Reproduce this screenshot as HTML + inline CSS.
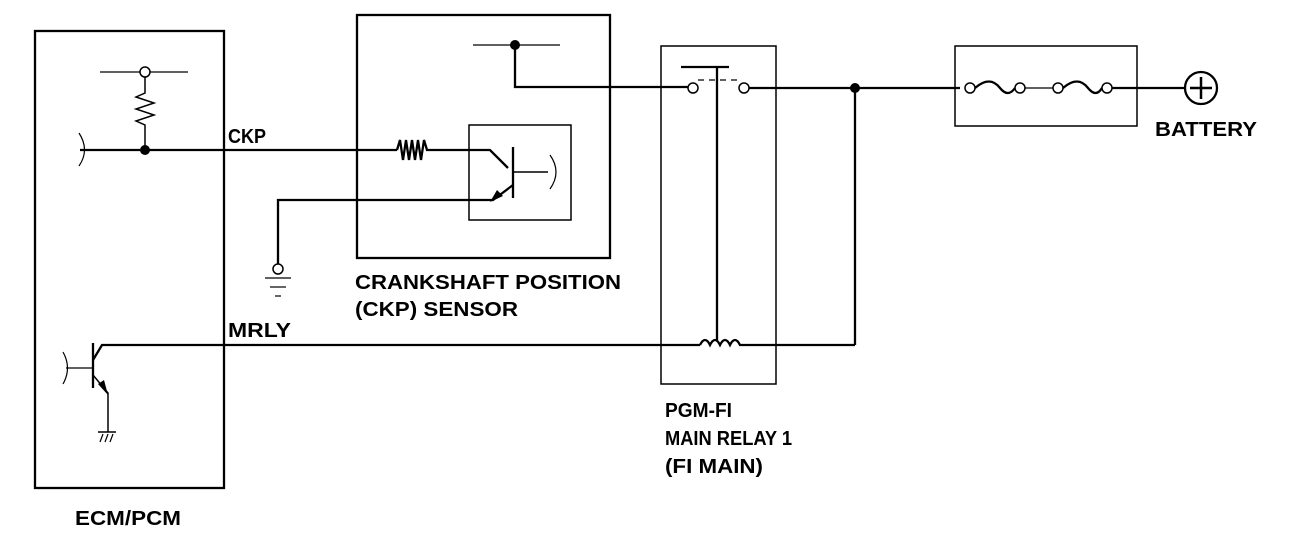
<!DOCTYPE html>
<html><head><meta charset="utf-8"><style>body{margin:0;background:#fff}svg{display:block}</style></head><body>
<svg width="1312" height="540" viewBox="0 0 1312 540" xmlns="http://www.w3.org/2000/svg" font-family="Liberation Sans, sans-serif" font-weight="bold" font-size="20">
<g fill="none" stroke="#000" stroke-width="2.3">
<rect x="35" y="31" width="189" height="457"/>
<rect x="357" y="15" width="253" height="243"/>
<rect x="469" y="125" width="102" height="95" stroke-width="1.5"/>
<rect x="661" y="46" width="115" height="338" stroke-width="1.5"/>
<rect x="955" y="46" width="182" height="80" stroke-width="1.5"/>
<!-- ECM pullup -->
<line x1="100" y1="72" x2="188" y2="72" stroke-width="1.2"/>
<polyline points="145,77 145,93 136,97 154,103 136,109 154,115 136,121 145,125 145,150" stroke-width="1.5"/>
<path d="M79,133 Q90,150 79,166" stroke-width="1.2"/>
<line x1="80" y1="150" x2="397" y2="150"/>
<polyline points="397,150 400,140 403,160 406,140 409,160 412,140 415,160 418,140 421,160 424,140 427,150 490,150 508,168"/>
<line x1="513" y1="147" x2="513" y2="198"/>
<line x1="513" y1="172" x2="548" y2="172" stroke-width="1.5"/>
<path d="M550,155 Q562,172 550,189" stroke-width="1.2"/>
<polyline points="513,185 493,200 278,200 278,264"/>
<line x1="265" y1="278" x2="291" y2="278" stroke-width="1.2"/>
<line x1="270" y1="287" x2="286" y2="287" stroke-width="1.2"/>
<line x1="275" y1="296" x2="281" y2="296" stroke-width="1.2"/>
<!-- sensor top -->
<line x1="473" y1="45" x2="560" y2="45" stroke-width="1.2"/>
<polyline points="515,45 515,87 688,87"/>
<!-- relay -->
<line x1="681" y1="67" x2="729" y2="67"/>
<line x1="717" y1="67" x2="717" y2="340"/>
<line x1="698" y1="80" x2="740" y2="80" stroke-width="1.2" stroke-dasharray="6,5"/>
<line x1="749" y1="88" x2="960" y2="88"/>
<line x1="855" y1="88" x2="855" y2="345"/>
<polyline points="149,345 700,345"/>
<path d="M700,345 Q705,335 710,345 Q715,335 720,345 Q725,335 730,345 Q735,335 740,345 L855,345"/>
<!-- fuse -->
<path d="M975,88 Q990,75 1000,88 Q1008,98 1015,88" />
<line x1="1025" y1="88" x2="1053" y2="88" stroke-width="1.2"/>
<path d="M1063,88 Q1078,75 1088,88 Q1096,98 1102,88"/>
<line x1="1112" y1="88" x2="1185" y2="88"/>
<circle cx="1201" cy="88" r="16"/>
<line x1="1201" y1="77" x2="1201" y2="99" stroke-width="2.5"/>
<line x1="1190" y1="88" x2="1212" y2="88" stroke-width="2.5"/>
<!-- ECM transistor -->
<line x1="93" y1="343" x2="93" y2="388"/>
<polyline points="93,360 102,345 149,345"/>
<line x1="66" y1="368" x2="93" y2="368" stroke-width="1.2"/>
<path d="M63,352 Q72,368 63,384" stroke-width="1.2"/>
<polyline points="93,375 108,393 108,432" stroke-width="1.5"/>
<line x1="98" y1="432" x2="116" y2="432" stroke-width="1.5"/>
<path d="M100,442 L103,434 M105,442 L108,434 M110,442 L113,434" stroke-width="1.2"/>
</g>
<g fill="#fff" stroke="#000" stroke-width="1.5">
<circle cx="145" cy="72" r="5"/>
<circle cx="278" cy="269" r="5"/>
<circle cx="693" cy="88" r="5"/>
<circle cx="744" cy="88" r="5"/>
<circle cx="970" cy="88" r="5"/>
<circle cx="1020" cy="88" r="5"/>
<circle cx="1058" cy="88" r="5"/>
<circle cx="1107" cy="88" r="5"/>
</g>
<g fill="#000">
<circle cx="145" cy="150" r="5"/>
<circle cx="515" cy="45" r="5"/>
<circle cx="855" cy="88" r="5"/>
<polygon points="490,202 497,190 503,196"/>
<polygon points="108,395 98,384 104,380"/>
</g>
<g fill="#000">
<text x="228" y="143" textLength="38" lengthAdjust="spacingAndGlyphs">CKP</text>
<text x="228" y="337" textLength="63" lengthAdjust="spacingAndGlyphs">MRLY</text>
<text x="355" y="289" textLength="266" lengthAdjust="spacingAndGlyphs">CRANKSHAFT POSITION</text>
<text x="355" y="316" textLength="163" lengthAdjust="spacingAndGlyphs">(CKP) SENSOR</text>
<text x="665" y="417" textLength="67" lengthAdjust="spacingAndGlyphs">PGM-FI</text>
<text x="665" y="445" textLength="127" lengthAdjust="spacingAndGlyphs">MAIN RELAY 1</text>
<text x="665" y="473" textLength="98" lengthAdjust="spacingAndGlyphs">(FI MAIN)</text>
<text x="75" y="525" textLength="106" lengthAdjust="spacingAndGlyphs">ECM/PCM</text>
<text x="1155" y="136" textLength="102" lengthAdjust="spacingAndGlyphs">BATTERY</text>
</g>
</svg>
</body></html>
